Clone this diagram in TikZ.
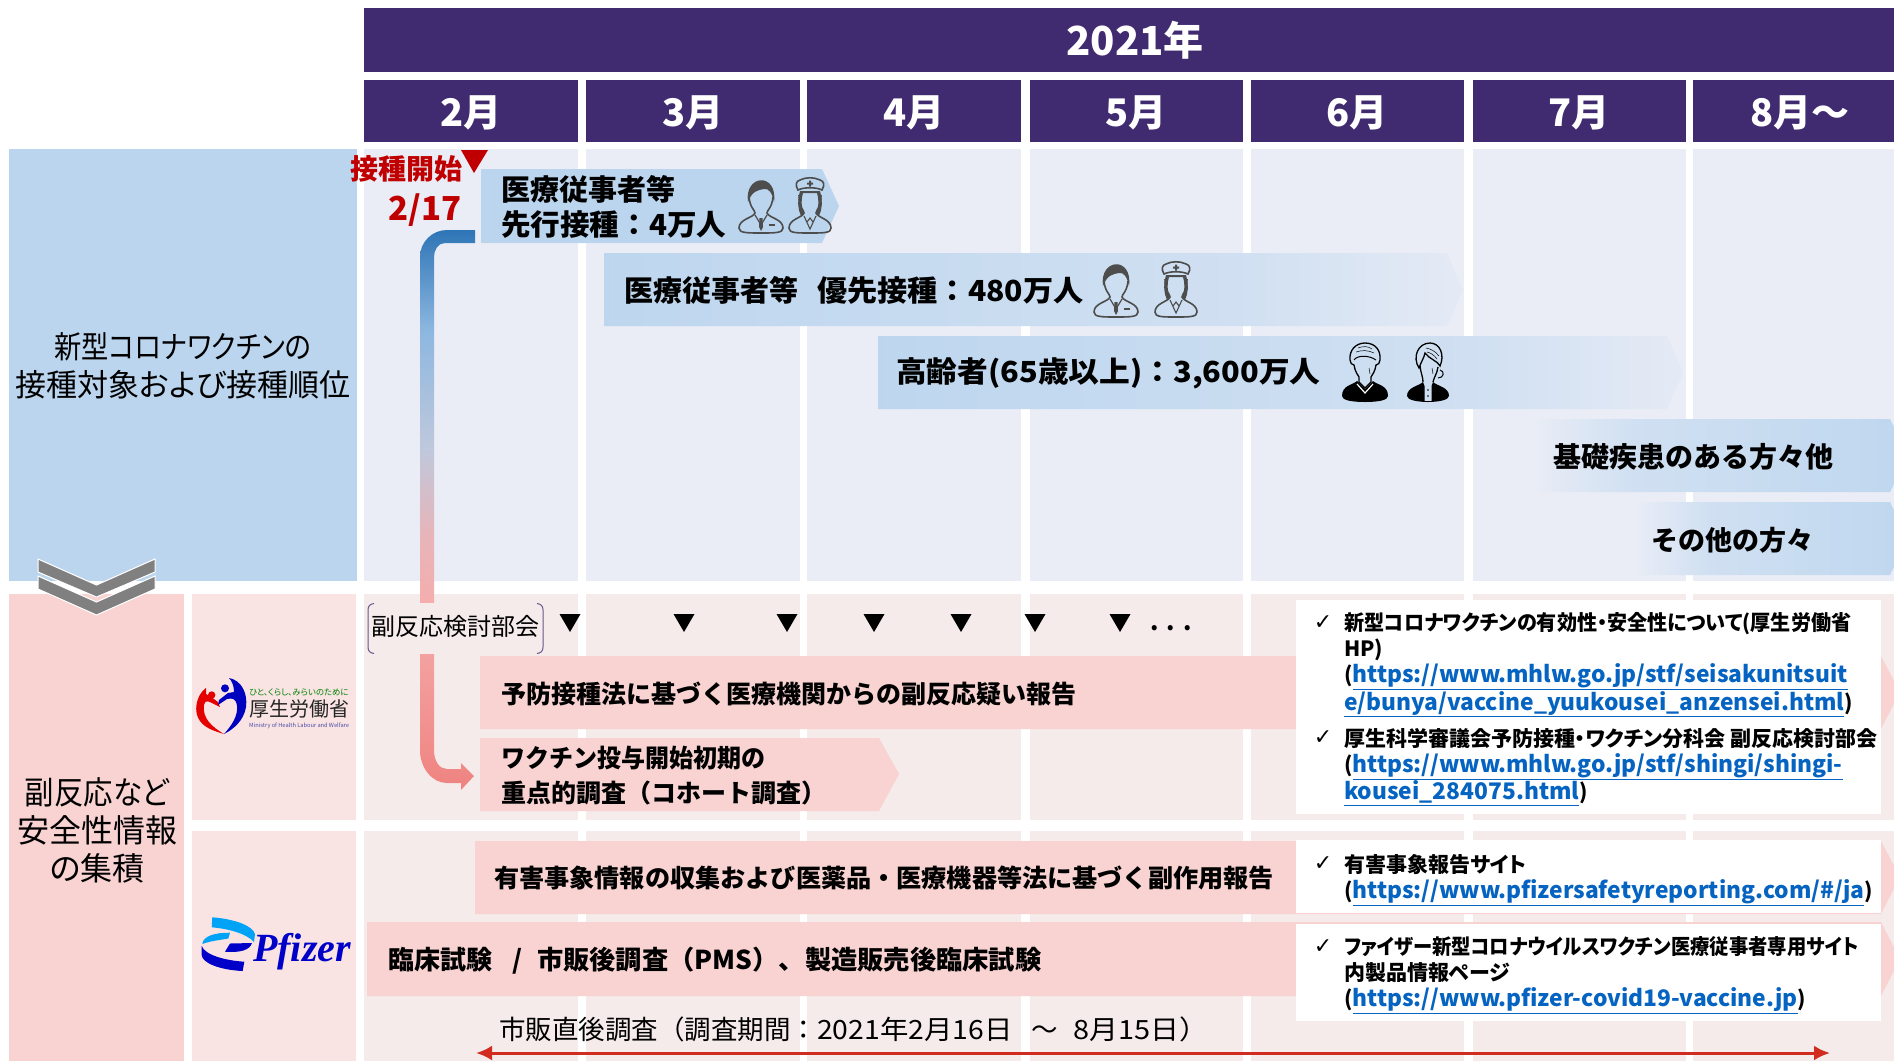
\documentclass[tikz,border=0pt]{standalone}
\usepackage{fontspec}
\setmainfont{Noto Sans CJK JP}
\newfontfamily\tightfont{Noto Sans CJK JP}[RawFeature=+palt]
\newfontfamily\symfont{DejaVu Sans}
\newfontfamily\logofont{Liberation Serif}
\usetikzlibrary{arrows.meta}

\definecolor{purplehead}{HTML}{402A70}
\definecolor{blueside}{HTML}{BBD5EE}
\definecolor{bluecol}{HTML}{EAEDF6}
\definecolor{pinkside}{HTML}{F8D3D2}
\definecolor{pinklogo}{HTML}{F9E4E3}
\definecolor{pinkcol}{HTML}{F6EBEB}
\definecolor{startred}{HTML}{C00000}
\definecolor{linkblue}{HTML}{0563C1}
\definecolor{pfdark}{HTML}{0000C9}
\definecolor{pflight}{HTML}{00A3F5}
\definecolor{iconink}{HTML}{4D4D4D}
\definecolor{spanred}{HTML}{D22B20}

\pgfdeclarehorizontalshading{fadeout}{100bp}{color(0bp)=(blueside!95!bluecol); color(25bp)=(blueside!95!bluecol); color(62bp)=(blueside!55!bluecol); color(75bp)=(bluecol!88!blueside); color(100bp)=(bluecol!88!blueside)}
\pgfdeclarehorizontalshading{fadein}{100bp}{color(0bp)=(bluecol!96!blueside); color(25bp)=(bluecol!96!blueside); color(38bp)=(blueside!55!bluecol); color(75bp)=(blueside!95!white); color(100bp)=(blueside!95!white)}
\definecolor{flowa}{HTML}{EF8380}
\definecolor{flowb}{HTML}{F4AEAE}
\definecolor{flowc}{HTML}{E8B4B8}
\definecolor{flowd}{HTML}{BFC8DC}
\definecolor{flowe}{HTML}{8DB7E0}
\definecolor{flowf}{HTML}{2E75B6}
\pgfdeclareverticalshading{bendflow}{100bp}{color(0bp)=(flowa); color(25bp)=(flowa); color(42bp)=(flowb); color(47.5bp)=(flowc); color(55.5bp)=(flowd); color(66bp)=(flowe); color(75bp)=(flowf); color(100bp)=(flowf)}

\newcommand{\pxs}[1]{\fontsize{#1}{#1}\selectfont}
\newcommand{\lnk}[1]{\textcolor{linkblue}{\underline{\fontsize{22.8}{26}\selectfont #1}}}
\newcommand{\narrow}[2]{\scalebox{#1}[1]{#2}}

\tikzset{
  headbar/.style={fill=purplehead,text=white,inner sep=0pt,font=\bfseries\pxs{38}},
  monthtext/.style={text=white,inner sep=0pt,font=\bfseries\pxs{38}},
  bartext/.style={anchor=west,inner sep=0pt,align=left,text=black,font=\bfseries\fontsize{29}{35}\selectfont},
  pinktext/.style={anchor=west,inner sep=0pt,align=left,text=black,font=\bfseries\fontsize{25}{35}\selectfont},
  sidetext/.style={inner sep=0pt,align=center,text=black,font=\tightfont\fontsize{31}{38}\selectfont},
  note/.style={anchor=west,inner sep=0pt,align=left,text=black,font=\tightfont\bfseries\fontsize{21}{26}\selectfont},
  tick/.style={inner sep=0pt,text=black,font=\symfont\pxs{22}},
  meeting/.style={fill=black},
  iconline/.style={draw=iconink,line width=1.6pt,fill=none},
  doctor/.pic={
    \draw[iconline] (-12,-8) .. controls (-11,3) and (-6,5) .. (-6,8) .. controls (-8,13) and (-22,14) .. (-22,23) .. controls (-22,28) and (-14,28) .. (0,28) .. controls (14,28) and (22,28) .. (22,23) .. controls (22,14) and (8,13) .. (6,8) .. controls (6,5) and (11,3) .. (12,-8);
    \fill[iconink] (-13,-3) .. controls (-17,-31) and (17,-33) .. (13,-3) .. controls (11,-12) and (8,-17) .. (3,-16) .. controls (-3,-15) and (-9,-14) .. (-13,-3) -- cycle;
    \draw[iconink,line width=1.2pt] (-6,10) -- (0,20) -- (6,10);
    \fill[iconink] (-1.5,13) -- (1.5,13) -- (2,22) -- (0,26) -- (-2,22) -- cycle;
    \fill[iconink] (8,19) rectangle (14,21);
  },
  nurse/.pic={
    \draw[iconline] (-11,-10) .. controls (-11,3) and (-6,5) .. (-6,8) .. controls (-8,13) and (-21,14) .. (-21,23) .. controls (-21,28) and (-14,28) .. (0,28) .. controls (14,28) and (21,28) .. (21,23) .. controls (21,14) and (8,13) .. (6,8) .. controls (6,5) and (11,3) .. (11,-10);
    \fill[iconink] (-10,-14) .. controls (-13,-2) and (-12,4) .. (-9,11) -- (-6,9) .. controls (-9,2) and (-9,-6) .. (-7,-12) -- (7,-12) .. controls (9,-6) and (9,2) .. (6,9) -- (9,11) .. controls (12,4) and (13,-2) .. (10,-14) -- cycle;
    \draw[iconline] (-12,-15) .. controls (-15,-20) and (-14,-24) .. (-10,-25) .. controls (-4,-28) and (4,-28) .. (10,-25) .. controls (14,-24) and (15,-20) .. (12,-15) .. controls (6,-18) and (-6,-18) .. (-12,-15) -- cycle;
    \fill[iconink] (-1,-24.5) rectangle (1,-18.5) (-3,-22.5) rectangle (3,-20.5);
    \draw[iconink,line width=1.1pt] (-6,11) -- (0,24) -- (6,11) (-3,17) -- (0,13) -- (3,17);
  },
  oldman/.pic={
    \fill[black] (-8,9) .. controls (-12,13) and (-23,13) .. (-23,24) .. controls (-23,28) and (-14,30) .. (0,30) .. controls (14,30) and (23,28) .. (23,24) .. controls (23,13) and (12,13) .. (8,9) -- (0,17) -- cycle;
    \draw[line width=1.3pt,fill=none] (-15,-12) .. controls (-16,-22) and (-9,-29) .. (0,-29) .. controls (10,-29) and (16,-22) .. (15,-12) .. controls (15,-9) and (13,-7) .. (11,-7) .. controls (10,0) and (7,3) .. (6,5) -- (6,10) -- (0,16) -- (-6,10) -- (-6,5) .. controls (-7,3) and (-10,0) .. (-11,-7) .. controls (-13,-7) and (-15,-9) .. (-15,-12) -- cycle;
    \draw[line width=1pt] (-11,-12) .. controls (-8,-17) and (4,-17) .. (11,-12);
    \draw[line width=.5pt] (-9,-20) .. controls (-3,-22) and (3,-22) .. (9,-19) (-7,-24) .. controls (-2,-26) and (3,-26) .. (7,-23) (4,-4) -- (5,2);
    \draw[white,line width=1.2pt] (-8,12) -- (0,21) -- (8,12);
  },
  oldwoman/.pic={
    \fill[black] (-5,10) .. controls (-9,14) and (-21,15) .. (-21,24) .. controls (-21,28) and (-10,30) .. (0,30) .. controls (10,30) and (21,28) .. (21,24) .. controls (21,15) and (9,14) .. (5,10) -- (3.5,14) -- (3.5,29) -- (-3.5,29) -- (-3.5,14) -- cycle;
    \draw[line width=1.3pt,fill=none] (-8,-6) .. controls (-7,2) and (-5,5) .. (-5,10) (10,-5) .. controls (9,2) and (6,5) .. (5,10);
    \draw[line width=1.3pt,fill=none] (-9,-4) .. controls (-16,-15) and (-10,-29) .. (2,-29) .. controls (12,-29) and (17,-17) .. (12,-6) .. controls (10,-11) and (1,-13) .. (-3,-19) .. controls (-4,-14) and (-7,-10) .. (-9,-4) -- cycle;
    \draw[line width=1pt] (12,-2) .. controls (17,-1) and (16,6) .. (10,6);
    \draw[line width=.5pt] (-2,-24) .. controls (3,-23) and (7,-21) .. (11,-16) (-1,-20) .. controls (3,-19) and (6,-17) .. (9,-13) (4,-4) -- (5,2);
    \fill[black] (0,18) circle (.9) (0,24) circle (.9);
  },
}

\begin{document}
\begin{tikzpicture}[x=1pt,y=-1pt]
    \useasboundingbox (0,0) rectangle (1894,1061);
    \clip (0,0) rectangle (1894,1061);
    % header
    \node[headbar,minimum width=1530pt,minimum height=64pt,font=\bfseries\pxs{40}] (year) at (1129,40) {\hspace{12pt}2021年};
    \foreach \m/\x/\w in {2/471/214,3/693/214,4/914/214,5/1136/213,6/1357/213,7/1579/213,8/1800/214}{
        \fill[purplehead] (\x-\w/2,80) rectangle (\x+\w/2,142);
        \fill[bluecol] (\x-\w/2,149) rectangle (\x+\w/2,581);
        \fill[pinkcol] (\x-\w/2,594) rectangle (\x+\w/2,820);
        \fill[pinkcol] (\x-\w/2,831) rectangle (\x+\w/2,1061);
    }
    \node[monthtext] (m2) at (471,113) {2月};
    \node[monthtext] (m3) at (693,113) {3月};
    \node[monthtext] (m4) at (914,113) {4月};
    \node[monthtext] (m5) at (1136,113) {5月};
    \node[monthtext] (m6) at (1357,113) {6月};
    \node[monthtext] (m7) at (1579,113) {7月};
    \node[monthtext] (m8) at (1800,113) {8月～};
    % left panels
    \fill[blueside] (9,149) rectangle (357,581);
    \fill[pinkside] (9,594) rectangle (184,1061);
    \fill[pinklogo] (192,594) rectangle (356,820);
    \fill[pinklogo] (192,831) rectangle (356,1061);
    \node[sidetext] (target) at (183,366) {\narrow{.88}{新型コロナワクチンの}\\接種対象および接種順位};
    \node[sidetext,font=\tightfont\fontsize{32}{38}\selectfont] (safety) at (97,830) {\narrow{.92}{副反応など}\\安全性情報\\の集積};
    \filldraw[fill=black!50,draw=white,line width=1pt] (38,559) -- (96.5,585) -- (155,559) -- (155,572) -- (96.5,597) -- (38,572) -- cycle;
    \filldraw[fill=black!50,draw=white,line width=1pt] (38,576) -- (96.5,602) -- (155,576) -- (155,589) -- (96.5,615) -- (38,589) -- cycle;
    % start marker
    \node[inner sep=0pt,text=startred,font=\bfseries\pxs{28}] (start) at (406,169) {接種開始};
    \node[inner sep=0pt,text=startred,font=\bfseries\pxs{33},anchor=east] (date) at (462,210) {2/17};
    \fill[startred] (461,150) -- (488,150) -- (474,173) -- cycle;
    % priority bars
    \fill[blueside] (481,169) -- (822,169) -- (839,206) -- (822,243) -- (481,243) -- cycle;
    \shade[shading=fadeout] (604,253) -- (1447,253) -- (1463,290) -- (1447,326) -- (604,326) -- cycle;
    \shade[shading=fadeout] (878,336) -- (1667,336) -- (1683,373) -- (1667,409) -- (878,409) -- cycle;
    \shade[shading=fadein] (1537,419) -- (1890,419) -- (1908,456) -- (1890,492) -- (1537,492) -- cycle;
    \shade[shading=fadein] (1637,502) -- (1890,502) -- (1908,539) -- (1890,575) -- (1637,575) -- cycle;
    \node[bartext] (first) at (501,207) {医療従事者等\\\narrow{1.02}{先行接種：4万人}};
    \node[bartext] (second) at (624,290) {医療従事者等\hspace{19pt}\narrow{1.04}{優先接種：480万人}};
    \node[bartext] (third) at (896,373) {\narrow{1.06}{高齢者(65歳以上)：3,600万人}};
    \node[bartext,font=\bfseries\pxs{28}] (fourth) at (1553,457) {基礎疾患のある方々他};
    \node[bartext,font=\bfseries\pxs{27}] (fifth) at (1651,540) {その他の方々};
    \pic at (761,205) {doctor};
    \pic at (810,205) {nurse};
    \pic at (1116,289) {doctor};
    \pic at (1176,289) {nurse};
    \pic at (1365,372) {oldman};
    \pic at (1428,372) {oldwoman};
    % safety bars
    \fill[pinkside] (480,656) -- (1881,656) -- (1900,692) -- (1881,729) -- (480,729) -- cycle;
    \fill[pinkside] (480,738) -- (879,738) -- (899,774) -- (879,811) -- (480,811) -- cycle;
    \fill[pinkside] (475,841) -- (1881,841) -- (1900,877) -- (1881,914) -- (475,914) -- cycle;
    \fill[pinkside] (367,922) -- (1881,922) -- (1900,959) -- (1881,996) -- (367,996) -- cycle;
    % flow from the first shots to the cohort study
    \shade[shading=bendflow] (475,230) -- (447,230) .. controls (432,230) and (420,242) .. (420,257) -- (420,750) .. controls (420,768) and (432,783) .. (447,783) -- (461,783) -- (461,790) -- (474,776) -- (461,763) -- (461,769) -- (447,769) .. controls (440,769) and (434,762) .. (434,750) -- (434,257) .. controls (434,250) and (438,243) .. (445,243) -- (475,243) -- cycle;
    \fill[pinkcol] (368,603) rectangle (543,654);
    \node[inner sep=0pt,font=\tightfont\pxs{24}] (panel) at (455.5,626) {副反応検討部会};
    \draw[purplehead!80!white,line width=1pt] (374,603.5) .. controls (370,604) and (368,606) .. (368,610) -- (368,647) .. controls (368,651) and (370,653) .. (374,653.5);
    \draw[purplehead!80!white,line width=1pt] (537,603.5) .. controls (541,604) and (543,606) .. (543,610) -- (543,647) .. controls (543,651) and (541,653) .. (537,653.5);
    \foreach \x in {570,684,787,874,961,1035,1120}{
        \fill[meeting] (\x-10.5,614) -- (\x+10.5,614) -- (\x,632) -- cycle;
    }
    \node[inner sep=0pt,font=\bfseries\pxs{24}] (more) at (1171,628) {.\hspace{8pt}.\hspace{8pt}.};
    \node[pinktext] (reaction) at (501,694) {予防接種法に基づく医療機関からの副反応疑い報告};
    \node[pinktext] (cohort) at (501,776) {\narrow{.96}{ワクチン投与開始初期の}\\重点的調査（コホート調査）};
    \node[pinktext] (adverse) at (494,878) {\narrow{1.006}{有害事象情報の収集および医薬品・医療機器等法に基づく副作用報告}};
    \node[pinktext,font=\bfseries\pxs{26}] (trial) at (388,961) {臨床試験\hspace{20pt}/\hspace{15pt}\narrow{1.01}{市販後調査（PMS）、製造販売後臨床試験}};
    % link boxes
    \fill[white] (1296,600) rectangle (1881,814);
    \fill[white] (1296,840) rectangle (1881,913);
    \fill[white] (1296,924) rectangle (1881,1021);
    \node[tick] (c1) at (1323,623) {✓};
    \node[tick] (c2) at (1323,738) {✓};
    \node[tick] (c3) at (1323,864) {✓};
    \node[tick] (c4) at (1323,947) {✓};
    \node[note] (n1) at (1344,665) {\narrow{.957}{新型コロナワクチンの有効性・安全性について(厚生労働省}\\HP)\\(\lnk{https://www.mhlw.go.jp/stf/seisakunitsuit}\\\lnk{e/bunya/vaccine\_yuukousei\_anzensei.html})};
    \node[note] (n2) at (1344,767) {厚生科学審議会予防接種・ワクチン分科会 副反応検討部会\\(\lnk{https://www.mhlw.go.jp/stf/shingi/shingi-}\\\lnk{kousei\_284075.html})};
    \node[note] (n3) at (1344,880) {有害事象報告サイト\\(\lnk{https://www.pfizersafetyreporting.com/\#/ja})};
    \node[note] (n4) at (1344,975) {\narrow{.92}{ファイザー新型コロナウイルスワクチン医療従事者専用サイト}\\内製品情報ページ\\(\lnk{https://www.pfizer-covid19-vaccine.jp})};
    % survey period
    \node[anchor=west,inner sep=0pt,font=\pxs{26.5}] (survey) at (499,1029) {市販直後調査（調査期間：\narrow{1.07}{2021年2月16日}\hspace{19pt}～\hspace{16pt}\narrow{1.09}{8月15日）}};
    \coordinate (pmsa) at (476,1053);
    \coordinate (pmsb) at (1830,1053);
    \draw[{Latex[length=16pt,width=15pt]}-{Latex[length=16pt,width=15pt]},draw=spanred,line width=3pt] (pmsa) -- (pmsb);
    % logos
    \fill[red!90!black] (206,688) .. controls (196,695) and (193,712) .. (200,721) .. controls (205,728) and (214,731) .. (224,734) .. controls (212,727) and (202,718) .. (204,705) .. controls (205,700) and (208,701) .. (212,703) -- (220,707) -- (218,702) -- (210,696) -- (206,694) -- cycle;
    \fill[red!90!black] (211.7,695) circle (3.7);
    \fill[blue!75!black] (229,678) .. controls (241,680) and (248,693) .. (246,707) .. controls (244,720) and (234,729) .. (224,734) .. controls (232,725) and (238,716) .. (237,706) .. controls (236,698) and (232,698) .. (227,699) -- (218,705) -- (219,700) -- (228,693) -- (234,692) .. controls (234,686) and (232,681) .. (229,678) -- cycle;
    \fill[blue!75!black] (225,688.3) circle (4);
    \node[anchor=west,inner sep=0pt,text=green!50!black,font=\tightfont\pxs{8.4}] (mhlwa) at (249,692) {ひと、くらし、みらいのために};
    \node[anchor=west,inner sep=0pt,text=black!85,font=\pxs{20}] (mhlwb) at (249,709) {厚生労働省};
    \node[anchor=west,inner sep=0pt,text=blue!50!black!70,font=\pxs{5.7}] (mhlwc) at (249,726) {Ministry of Health Labour and Welfare};
    \fill[pflight] (212.3,917.3) .. controls (235,919) and (253,926) .. (255,934) -- (254,942) .. controls (248,935) and (232,929) .. (211.7,927.3) -- cycle;
    \fill[pflight] (202.3,944) .. controls (203,936) and (215,932.5) .. (230,932.7) -- (228.3,938.5) .. controls (220,940) and (210,941) .. (202.3,944) -- cycle;
    \fill[pfdark] (201.7,946) .. controls (205,955) and (225,960.5) .. (244.3,961.7) -- (242.7,971) .. controls (220,970) and (202,963) .. (201.7,955) -- cycle;
    \fill[pfdark] (225,951.7) -- (230,943.5) -- (252,943) .. controls (250,950) and (240,953) .. (225,951.7) -- cycle;
    \node[inner sep=0pt,text=pfdark,font=\logofont\bfseries\itshape\pxs{40}] (pfizer) at (302,952) {Pfizer};
\end{tikzpicture}
\end{document}
